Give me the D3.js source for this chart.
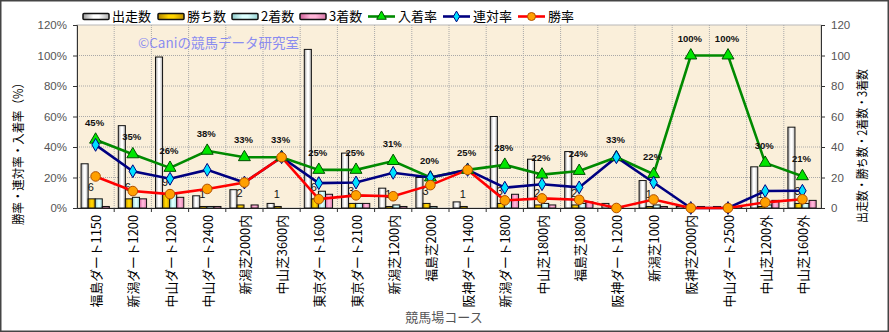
<!DOCTYPE html>
<html><head><meta charset="utf-8">
<script src="https://cdn.jsdelivr.net/npm/d3@7"></script>
<style>
body{margin:0;background:#fff;}
svg{display:block;}
</style></head>
<body>
<svg id="chart" width="889" height="332"></svg>
<script>
const categories = ["福島ダート1150","新潟ダート1200","中山ダート1200","中山ダート2400","新潟芝2000内","中山芝3600内","東京ダート1600","東京ダート2100","新潟芝1200内","福島芝2000","阪神ダート1400","新潟ダート1800","中山芝1800内","福島芝1800","阪神ダート1200","新潟芝1000","阪神芝2000内","中山ダート2500","中山芝1200外","中山芝1600外"];
const starts  = [29,54,99,8,12,3,104,36,13,20,4,60,32,37,3,18,1,1,27,53];
const wins    = [6,6,9,1,2,1,6,3,1,3,1,3,2,2,0,1,0,0,1,3];
const seconds = [6,7,10,1,0,0,11,3,2,1,0,5,3,3,1,2,0,0,2,3];
const thirds  = [1,6,7,1,2,0,9,3,1,0,0,9,2,4,0,1,1,1,5,5];
const placeRate = [44.8,35.2,26.3,37.5,33.3,33.3,25.0,25.0,30.8,20.0,25.0,28.3,21.9,24.3,33.3,22.2,100,100,29.6,20.8];
const quinellaRate = [41.4,24.1,19.2,25.0,16.7,33.3,16.3,16.7,23.1,20.0,25.0,13.3,15.6,13.5,33.3,16.7,0,0,11.1,11.3];
const winRate = [20.7,11.1,9.1,12.5,16.7,33.3,5.8,8.3,7.7,15.0,25.0,5.0,6.3,5.4,0,5.6,0,0,3.7,5.7];
const leftTicks = [0,20,40,60,80,100,120];
const rightTicks = [0,20,40,60,80,100,120];
const barSeriesNames = ["出走数","勝ち数","2着数","3着数"];
const lineSeriesNames = ["入着率","連対率","勝率"];

const svg = d3.select("#chart");
const JP = "'Noto Sans CJK JP','Noto Sans',sans-serif";
const L=77,R=821,T=25,B=208;

// outer frame
svg.append("rect").attr("x",0.75).attr("y",0.75).attr("width",887.5).attr("height",330.5)
  .attr("fill","#fff").attr("stroke","#444").attr("stroke-width",1.5);

// gradients
const defs = svg.append("defs");
const grads = [
  {id:"gS", c:["#9a9a9a","#ffffff","#ffffff","#b0b0b0"]},
  {id:"gW", c:["#b08400","#ffd400","#ffd400","#c09000"]},
  {id:"gP2", c:["#8ccaca","#dcffff","#dcffff","#9ad4d4"]},
  {id:"gP3", c:["#d0609a","#ffb4d8","#ffb4d8","#d878a8"]}
];
grads.forEach(g=>{
  const lg = defs.append("linearGradient").attr("id",g.id).attr("x1","0").attr("x2","1").attr("y1","0").attr("y2","0");
  [0,0.4,0.6,1].forEach((o,i)=>lg.append("stop").attr("offset",o).attr("stop-color",g.c[i]));
});
const barFill = ["url(#gS)","url(#gW)","url(#gP2)","url(#gP3)"];

const x = d3.scaleBand().domain(categories).range([L,R]).padding(0);
const bw = x.bandwidth();
const xs = d3.scaleBand().domain([0,1,2,3]).range([bw*0.11,bw*0.87]).padding(0);
const yL = d3.scaleLinear().domain([0,120]).range([B,T]);
const yR = d3.scaleLinear().domain([0,120]).range([B,T]);

// plot background
svg.append("rect").attr("x",L).attr("y",T).attr("width",R-L).attr("height",B-T)
  .attr("fill","#faefda").attr("stroke","#b8b8b8").attr("stroke-width",1);

// grid
const grid = svg.append("g");
leftTicks.filter(v=>v>0 && v<120).forEach(v=>{
  grid.append("line").attr("x1",L).attr("x2",R).attr("y1",yL(v)).attr("y2",yL(v))
    .attr("stroke","#a8a8a8").attr("stroke-dasharray","1,1");
});
categories.slice(1).forEach(c=>{
  grid.append("line").attr("x1",x(c)).attr("x2",x(c)).attr("y1",T).attr("y2",B)
    .attr("stroke","#a8a8a8").attr("stroke-dasharray","1,1");
});

// watermark
svg.append("text").attr("x",138).attr("y",48).attr("font-family",JP).attr("font-size",13.5)
  .attr("fill","#8a8cf0").text("©Caniの競馬データ研究室");

// bars
const barData = [starts,wins,seconds,thirds];
const bars = svg.append("g");
barData.forEach((arr,si)=>{
  bars.selectAll(null).data(arr.map((v,i)=>({v,c:categories[i]}))).enter()
    .filter(d=>d.v>0)
    .append("rect")
    .attr("x",d=>x(d.c)+xs(si)).attr("width",xs.bandwidth())
    .attr("y",d=>yR(d.v)).attr("height",d=>B-yR(d.v))
    .attr("fill",barFill[si]).attr("stroke","#111").attr("stroke-width",1);
});

// win count labels
svg.append("g").selectAll("text").data(wins.map((v,i)=>({v,c:categories[i]}))).enter()
  .filter(d=>d.v>0)
  .append("text")
  .attr("x",d=>x(d.c)+xs(1)+xs.bandwidth()/2-1)
  .attr("y",d=>yR(d.v)-8)
  .attr("text-anchor","middle").attr("font-family","'Liberation Sans',Arial,sans-serif")
  .attr("font-size",11).attr("fill","#111").text(d=>d.v);

// axes
const axL = svg.append("g").attr("transform",`translate(${L},0)`)
  .call(d3.axisLeft(yL).tickValues(leftTicks).tickFormat(d=>d+"%").tickSize(4).tickPadding(6));
const axR = svg.append("g").attr("transform",`translate(${R},0)`)
  .call(d3.axisRight(yR).tickValues(rightTicks).tickSize(4).tickPadding(6));
[axL,axR].forEach(a=>{
  a.select(".domain").attr("stroke","#333");
  a.selectAll(".tick line").attr("stroke","#333");
  a.selectAll("text").attr("font-family","'Liberation Sans',Arial,sans-serif").attr("font-size",11.5).attr("fill","#555");
});
// bottom axis
const axB = svg.append("g").attr("transform",`translate(0,${B})`)
  .call(d3.axisBottom(x).tickValues([]).tickSizeOuter(0));
axB.select(".domain").attr("stroke","#222").attr("stroke-width",1.2);
categories.slice(1).forEach(c=>{
  svg.append("line").attr("x1",x(c)).attr("x2",x(c)).attr("y1",B).attr("y2",B+4).attr("stroke","#333");
});

// category labels
svg.append("g").selectAll("text").data(categories).enter().append("text")
  .attr("transform",d=>`translate(${x(d)+bw/2+1},215) rotate(-90)`)
  .attr("text-anchor","end").attr("dy","0.36em")
  .attr("font-family",JP).attr("font-size",12.8).attr("fill","#000").text(d=>d);

// lines
const lineSeries = [
  {vals:placeRate, stroke:"#008a00", fill:"#00e600", mstroke:"#005000", sym:"tri"},
  {vals:quinellaRate, stroke:"#000080", fill:"#00e0ff", mstroke:"#000080", sym:"dia"},
  {vals:winRate, stroke:"#ff0000", fill:"#ffa000", mstroke:"#b05000", sym:"cir"}
];
const cx = c=>x(c)+bw/2;
function marker(g,sym,px,py,s){
  if(sym==="tri"){
    g.append("path").attr("d",d3.symbol(d3.symbolTriangle,s.size||62)()).attr("transform",`translate(${px},${py})`)
      .attr("fill",s.fill).attr("stroke",s.mstroke).attr("stroke-width",1);
  } else if(sym==="dia"){
    g.append("path").attr("d",d3.symbol(d3.symbolDiamond,s.size||48)()).attr("transform",`translate(${px},${py})`)
      .attr("fill",s.fill).attr("stroke",s.mstroke).attr("stroke-width",1);
  } else {
    g.append("circle").attr("cx",px).attr("cy",py).attr("r",s.r||4.8)
      .attr("fill",s.fill).attr("stroke",s.mstroke).attr("stroke-width",1);
  }
}
const lineG = svg.append("g");
lineSeries.forEach(s=>{
  const line = d3.line().x((d,i)=>cx(categories[i])).y(d=>yL(d));
  lineG.append("path").attr("d",line(s.vals)).attr("fill","none").attr("stroke",s.stroke).attr("stroke-width",2.6);
});
lineSeries.forEach(s=>{
  s.vals.forEach((v,i)=>marker(lineG,s.sym,cx(categories[i]),yL(v),s));
});

// place rate labels
svg.append("g").selectAll("text").data(placeRate.map((v,i)=>({v,c:categories[i]}))).enter().append("text")
  .attr("x",d=>cx(d.c)-1).attr("y",d=>yL(d.v)-14)
  .attr("text-anchor","middle").attr("font-family","'Liberation Sans',Arial,sans-serif")
  .attr("font-weight","bold").attr("font-size",9.5).attr("fill","#111")
  .text(d=>Math.round(d.v)+"%");

// axis titles
svg.append("text").attr("transform","translate(18,151) rotate(-90)").attr("text-anchor","middle").attr("dy","0.36em")
  .attr("font-family",JP).attr("font-size",12.5).attr("textLength",148).attr("lengthAdjust","spacingAndGlyphs")
  .attr("fill","#000").text("勝率・連対率・入着率（%）");
svg.append("text").attr("transform","translate(862,146) rotate(-90)").attr("text-anchor","middle").attr("dy","0.36em")
  .attr("font-family",JP).attr("font-size",12.5).attr("textLength",154).attr("lengthAdjust","spacingAndGlyphs")
  .attr("fill","#000").text("出走数・勝ち数・2着数・3着数");
svg.append("text").attr("x",444).attr("y",317).attr("text-anchor","middle").attr("dy","0.36em")
  .attr("font-family",JP).attr("font-size",13).attr("fill","#555").text("競馬場コース");

// legend
const leg = svg.append("g");
const legBarX = [83,158,232,300];
barSeriesNames.forEach((n,i)=>{
  leg.append("rect").attr("x",legBarX[i]).attr("y",13.5).attr("width",26).attr("height",6)
    .attr("fill",barFill[i]).attr("stroke","#111").attr("stroke-width",1.5).attr("rx",1);
  leg.append("text").attr("x",legBarX[i]+29).attr("y",16.5).attr("dy","0.36em")
    .attr("font-family",JP).attr("font-size",13).attr("fill","#000").text(n);
});
const legLineX = [368,443,518];
lineSeriesNames.forEach((n,i)=>{
  const s = lineSeries[i];
  leg.append("line").attr("x1",legLineX[i]).attr("x2",legLineX[i]+27).attr("y1",16.5).attr("y2",16.5)
    .attr("stroke",s.stroke).attr("stroke-width",2.6);
  marker(leg,s.sym,legLineX[i]+13.5,16.5,{fill:s.fill,mstroke:s.mstroke,size:s.sym==="tri"?40:34,r:4});
  leg.append("text").attr("x",legLineX[i]+30).attr("y",16.5).attr("dy","0.36em")
    .attr("font-family",JP).attr("font-size",13).attr("fill","#000").text(n);
});
</script>
</body></html>
